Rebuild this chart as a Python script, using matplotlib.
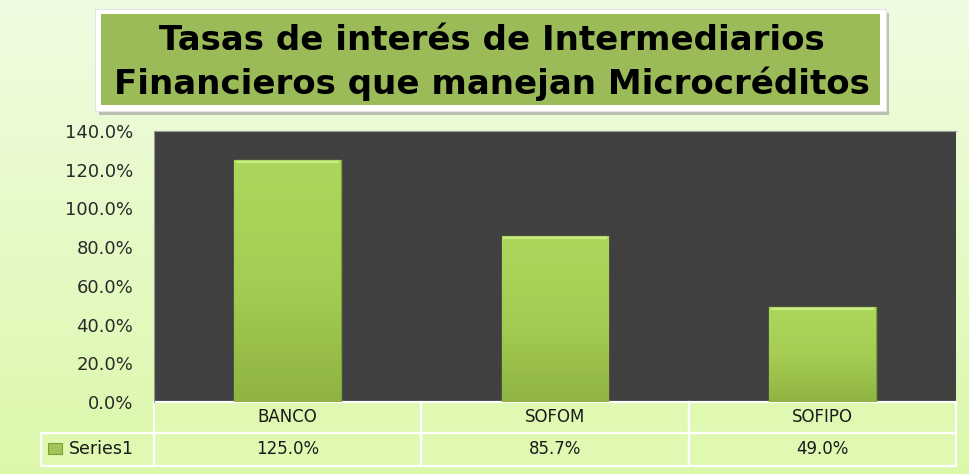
import numpy as np
import matplotlib.pyplot as plt
from matplotlib.patches import Rectangle
from matplotlib.colors import LinearSegmentedColormap

categories = ["BANCO", "SOFOM", "SOFIPO"]
tasas = [125.0, 85.7, 49.0]
series_name = "Series1"
title_lines = ["Tasas de interés de Intermediarios", "Financieros que manejan Microcréditos"]
yticks = [0, 20, 40, 60, 80, 100, 120, 140]

W, H = 969, 474
fig = plt.figure(figsize=(W / 100, H / 100), dpi=100)

# fondo degradado verde claro
bg = fig.add_axes([0, 0, 1, 1], zorder=-10)
bg_cmap = LinearSegmentedColormap.from_list("bg", ["#dbf8aa", "#f0fce2"])
bg.imshow(np.linspace(0, 1, 256).reshape(-1, 1), aspect="auto", cmap=bg_cmap,
          origin="lower", extent=[0, 1, 0, 1])
bg.set_xlim(0, 1)
bg.set_ylim(0, 1)
bg.axis("off")

def fx(px):
    return px / W

def fy(py):
    return 1 - py / H

def frect(x0, y0, x1, y1, **kw):
    # rectangulo en pixeles (y hacia abajo)
    r = Rectangle((fx(x0), fy(y1)), fx(x1) - fx(x0), fy(y0) - fy(y1),
                  transform=fig.transFigure, **kw)
    fig.add_artist(r)
    return r

# caja del titulo
frect(99, 13, 889, 115, facecolor="#9a9a9a", alpha=0.6, edgecolor="none", zorder=1)
frect(95, 9, 886, 111, facecolor="white", edgecolor="#e4e4e4", lw=0.8, zorder=2)
frect(101, 14, 880, 105, facecolor="#9bbb59", edgecolor="none", zorder=3)
for line, ypx in zip(title_lines, [41, 84]):
    fig.text(fx(492), fy(ypx), line, ha="center", va="center",
             fontsize=24.5, fontweight="bold", family="DejaVu Sans",
             color="black", zorder=4)

# area de grafico
ax = fig.add_axes([fx(154), fy(402), fx(956) - fx(154), fy(131) - fy(402)])
ax.set_facecolor("#404040")
x = np.arange(len(categories))
bars = ax.bar(x, tasas, width=0.4, color="#a6cf55", edgecolor="#7d9f35",
              linewidth=1.0, zorder=2)

bar_cmap = LinearSegmentedColormap.from_list("bar", ["#8fb442", "#a5cd53", "#add75c"])
grad = np.linspace(0, 1, 256).reshape(-1, 1)
for b in bars:
    x0, w, h = b.get_x(), b.get_width(), b.get_height()
    im = ax.imshow(grad, aspect="auto", cmap=bar_cmap, origin="lower",
                   extent=[x0, x0 + w, 0, h], zorder=2.5)
    im.set_clip_path(b)
    ax.plot([x0 + 0.01, x0 + w - 0.01], [h - 1.2, h - 1.2], color="#c9ec86",
            lw=1.5, zorder=3)

ax.set_xlim(-0.5, len(categories) - 0.5)
ax.set_ylim(0, 140)
ax.set_yticks(yticks)
ax.set_yticklabels([f"{v:.1f}%" for v in yticks], fontsize=13,
                   family="DejaVu Sans", color="#2a2a2a")
ax.tick_params(axis="y", length=0, pad=15)
ax.set_xticks([])
for s in ax.spines.values():
    s.set_color("#9a9a9a")
    s.set_linewidth(0.8)
ax.spines["bottom"].set_visible(False)
ax.spines["right"].set_visible(False)

# tabla de datos (columnas alineadas con las categorias)
trans = ax.get_xaxis_transform()
ax_h = 402 - 131
row_tops = [0, -31 / ax_h]
row_h = [31 / ax_h, 33 / ax_h]
row_texts = [categories, [f"{v:.1f}%" for v in tasas]]
for r in range(2):
    y0 = row_tops[r] - row_h[r]
    for i in range(len(categories)):
        ax.add_patch(Rectangle((i - 0.5, y0), 1, row_h[r], transform=trans,
                               facecolor="#dff9b2", edgecolor="white", lw=1.6,
                               clip_on=False, zorder=1))
        ax.text(i, y0 + row_h[r] / 2, row_texts[r][i], transform=trans,
                ha="center", va="center", fontsize=12, family="DejaVu Sans",
                color="#1a1a1a", clip_on=False)

# celda de la serie
frect(41, 433, 154, 466, facecolor="#dff9b2", edgecolor="white", lw=1.6, zorder=1)
frect(48, 443, 62, 454, facecolor="#a0c55a", edgecolor="#7d9f35", lw=0.8, zorder=5)
fig.text(fx(69), fy(449.5), series_name, ha="left", va="center", fontsize=12.5,
         family="DejaVu Sans", color="#1a1a1a", zorder=5)

fig.savefig("out.png", dpi=100)
